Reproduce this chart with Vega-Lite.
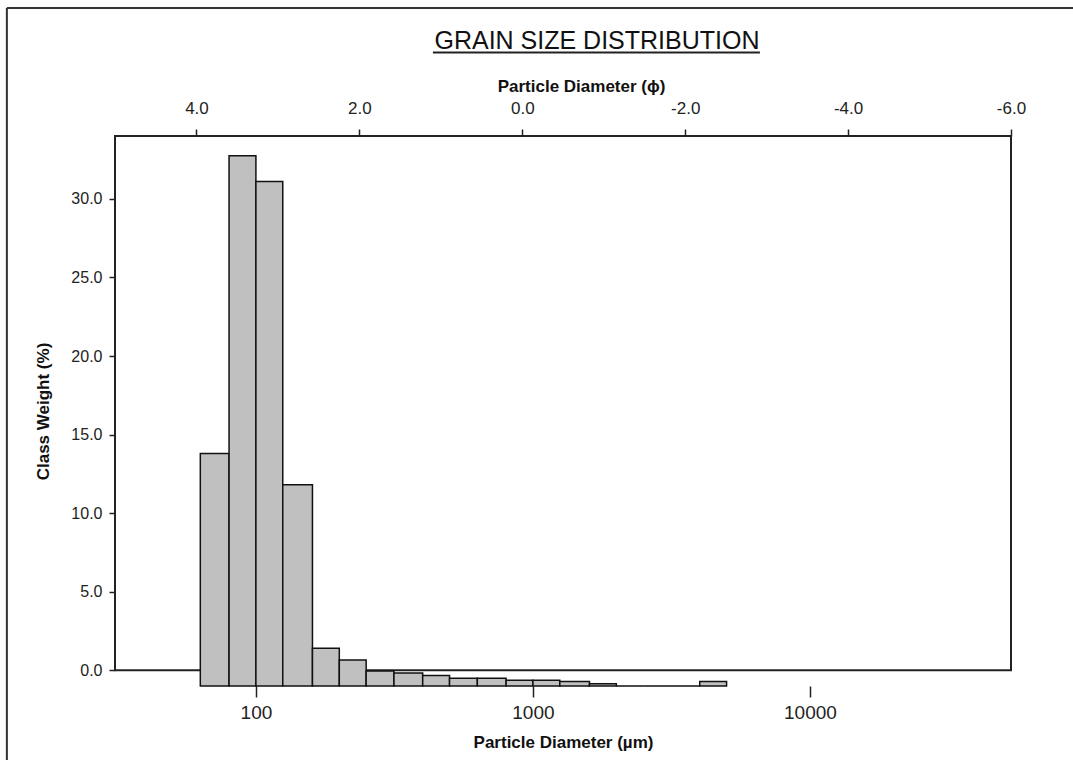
{
  "$schema": "https://vega.github.io/schema/vega-lite/v6.json",
  "width": 896,
  "height": 550,
  "autosize": {"type": "none"},
  "padding": {"left": 115, "top": 136, "right": 62, "bottom": 74},
  "background": "white",
  "title": {
    "text": "GRAIN SIZE DISTRIBUTION",
    "font": "Liberation Sans",
    "fontSize": 25,
    "fontWeight": "normal",
    "color": "#111",
    "anchor": "middle",
    "dx": 34,
    "offset": 26,
    "dy": 93,
    "baseline": "alphabetic"
  },
  "config": {
    "view": {"stroke": null},
    "axis": {
      "grid": false,
      "domain": false,
      "labelFont": "Liberation Sans",
      "titleFont": "Liberation Sans",
      "labelColor": "#222",
      "titleColor": "#111",
      "tickColor": "#222",
      "tickWidth": 1.5,
      "titleFontWeight": "bold"
    }
  },
  "datasets": {
    "bins": [
      {"lo": 63, "hi": 80, "w": 13.8},
      {"lo": 80, "hi": 100, "w": 32.75},
      {"lo": 100, "hi": 125, "w": 31.1},
      {"lo": 125, "hi": 160, "w": 11.8},
      {"lo": 160, "hi": 200, "w": 1.4},
      {"lo": 200, "hi": 250, "w": 0.65},
      {"lo": 250, "hi": 315, "w": -0.05},
      {"lo": 315, "hi": 400, "w": -0.17},
      {"lo": 400, "hi": 500, "w": -0.33},
      {"lo": 500, "hi": 630, "w": -0.5},
      {"lo": 630, "hi": 800, "w": -0.5},
      {"lo": 800, "hi": 1000, "w": -0.64},
      {"lo": 1000, "hi": 1250, "w": -0.64},
      {"lo": 1250, "hi": 1600, "w": -0.72},
      {"lo": 1600, "hi": 2000, "w": -0.86},
      {"lo": 2000, "hi": 2500, "w": -1},
      {"lo": 2500, "hi": 3150, "w": -1},
      {"lo": 3150, "hi": 4000, "w": -1},
      {"lo": 4000, "hi": 5000, "w": -0.72}
    ],
    "one": [{"k": 1}],
    "phi": [{"phi": 0}]
  },
  "layer": [
    {
      "layer": [
        {
          "data": {"name": "one"},
          "mark": {"type": "rect", "fill": "white", "fillOpacity": 0, "stroke": "#222", "strokeWidth": 2},
          "encoding": {
            "x": {"datum": 31, "type": "quantitative", "scale": {"type": "log", "domain": [31, 53170], "nice": false}},
            "x2": {"datum": 53170},
            "y": {"datum": 0, "type": "quantitative", "scale": {"domain": [-1, 34], "nice": false, "zero": false}},
            "y2": {"datum": 34}
          }
        },
        {
          "data": {"name": "bins"},
          "mark": {"type": "bar", "fill": "#c0c0c0", "stroke": "#111", "strokeWidth": 1.5},
          "encoding": {
            "x": {
              "field": "lo",
              "type": "quantitative",
              "scale": {"type": "log", "domain": [31, 53170], "nice": false},
              "axis": {
                "orient": "bottom",
                "values": [100, 1000, 10000],
                "format": "d",
                "tickSize": 11,
                "labelFontSize": 19,
                "labelPadding": 6,
                "labelFlush": false,
                "title": "Particle Diameter (µm)",
                "titleFontSize": 17,
                "titlePadding": 12
              }
            },
            "x2": {"field": "hi"},
            "y": {
              "field": "w",
              "type": "quantitative",
              "scale": {"domain": [-1, 34], "nice": false, "zero": false},
              "axis": {
                "values": [0, 5, 10, 15, 20, 25, 30],
                "format": ".1f",
                "tickSize": 6,
                "labelFontSize": 16,
                "labelPadding": 7,
                "title": "Class Weight (%)",
                "titleFontSize": 17,
                "titlePadding": 18
              }
            },
            "y2": {"datum": -1}
          }
        },
        {
          "data": {"name": "one"},
          "mark": {"type": "rule", "stroke": "#222", "strokeWidth": 2},
          "encoding": {
            "x": {"datum": 435.5, "type": "quantitative", "scale": {"type": "log", "domain": [31, 53170], "nice": false}},
            "x2": {"datum": 6598},
            "y": {"datum": 39.31, "type": "quantitative", "scale": {"domain": [-1, 34], "nice": false, "zero": false}}
          }
        },
        {
          "data": {"name": "one"},
          "mark": {"type": "rule", "stroke": "#333", "strokeWidth": 2},
          "encoding": {
            "x": {"datum": 12.62, "type": "quantitative", "scale": {"type": "log", "domain": [31, 53170], "nice": false}},
            "x2": {"datum": 1000000},
            "y": {"datum": 42.15, "type": "quantitative", "scale": {"domain": [-1, 34], "nice": false, "zero": false}}
          }
        },
        {
          "data": {"name": "one"},
          "mark": {"type": "rule", "stroke": "#333", "strokeWidth": 2},
          "encoding": {
            "x": {"datum": 12.62, "type": "quantitative", "scale": {"type": "log", "domain": [31, 53170], "nice": false}},
            "y": {"datum": 42.15, "type": "quantitative", "scale": {"domain": [-1, 34], "nice": false, "zero": false}},
            "y2": {"datum": -12}
          }
        }
      ]
    },
    {
      "data": {"name": "phi"},
      "mark": {"type": "point", "opacity": 0},
      "encoding": {
        "x": {
          "field": "phi",
          "type": "quantitative",
          "scale": {"domain": [5, -6], "nice": false, "zero": false},
          "axis": {
            "orient": "top",
            "values": [4, 2, 0, -2, -4, -6],
            "labelExpr": "datum.value < 0 ? '-' + format(-datum.value, '.1f') : format(datum.value, '.1f')",
            "tickSize": 7,
            "labelFontSize": 17,
            "labelPadding": 12,
            "labelFlush": false,
            "title": "Particle Diameter (ϕ)",
            "titleFontSize": 17,
            "titleX": 466,
            "titlePadding": 4
          }
        }
      }
    }
  ],
  "resolve": {"scale": {"x": "independent"}}
}
